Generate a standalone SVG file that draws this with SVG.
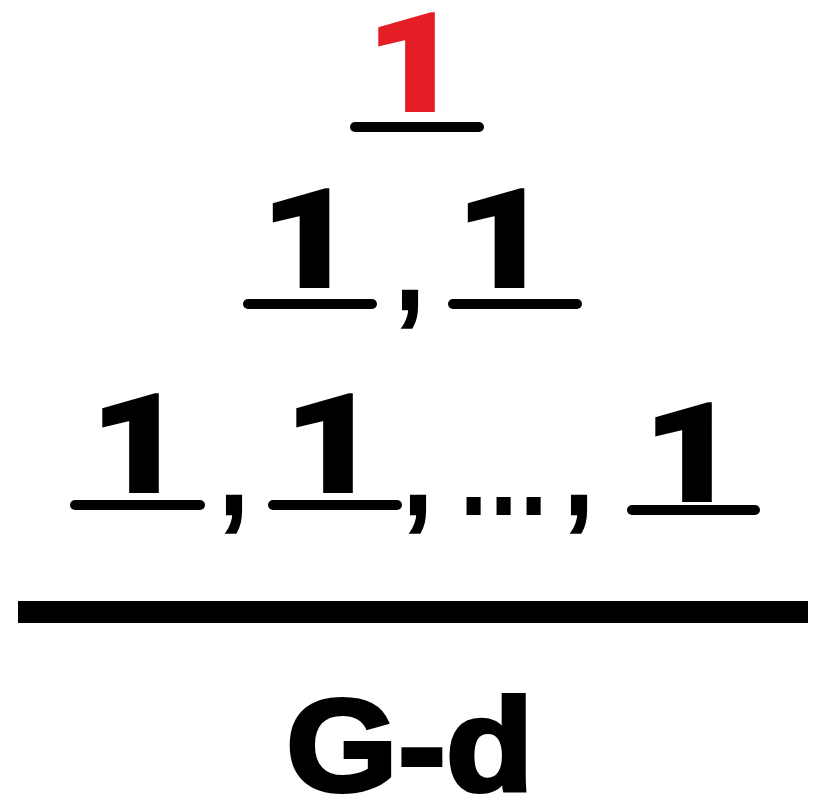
<svg xmlns="http://www.w3.org/2000/svg" width="816" height="796" viewBox="0 0 816 796">
<style>
.one{font-family:Roboto,"Liberation Sans",sans-serif;font-weight:900;font-size:138px;stroke-width:2;stroke-linejoin:miter}
.blk{fill:#000;stroke:#000}
.red{fill:#e31e24;stroke:#e31e24}
.cm{font-family:"Liberation Sans",Arial,sans-serif;font-weight:bold;font-size:100px;fill:#000;stroke:#000;stroke-width:2}
.dots{font-family:"Liberation Sans",Arial,sans-serif;font-weight:bold;font-size:100px;fill:#000;letter-spacing:2.2px}
.ul{stroke:#000;stroke-width:10;stroke-linecap:round;fill:none}
.gd{font-family:"Liberation Sans",Arial,sans-serif;font-weight:bold;font-size:132px;fill:#000;stroke:#000;stroke-width:4}
</style>
<rect width="816" height="796" fill="#fff"/>
<g id="row1">
<text class="one red" transform="translate(366,111) scale(1.2,1)">1</text>
<line class="ul" x1="355" y1="127" x2="479" y2="127"/>
</g>
<g id="row2">
<text class="one blk" transform="translate(260.5,287) scale(1.2,1)">1</text>
<line class="ul" x1="248" y1="304" x2="372" y2="304"/>
<text class="cm" text-anchor="middle" transform="translate(410,308.7) scale(1,1.2)">,</text>
<text class="one blk" transform="translate(455.5,287) scale(1.2,1)">1</text>
<line class="ul" x1="453" y1="304" x2="577" y2="304"/>
</g>
<g id="row3">
<text class="one blk" transform="translate(90,492) scale(1.2,1)">1</text>
<line class="ul" x1="75" y1="505" x2="200" y2="505"/>
<text class="cm" text-anchor="middle" transform="translate(234,514) scale(1,1.2)">,</text>
<text class="one blk" transform="translate(284,492) scale(1.2,1)">1</text>
<line class="ul" x1="273" y1="505" x2="397" y2="505"/>
<text class="cm" text-anchor="middle" transform="translate(418,514) scale(1,1.2)">,</text>
<text class="dots" transform="translate(459.8,515) scale(1,1.2)">...</text>
<text class="cm" text-anchor="middle" transform="translate(579,514) scale(1,1.2)">,</text>
<text class="one blk" transform="translate(643,501) scale(1.2,1)">1</text>
<line class="ul" x1="632" y1="510" x2="755" y2="510"/>
</g>
<g id="bar">
<rect x="18" y="601" width="790" height="22" fill="#000"/>
</g>
<g id="denominator">
<text class="gd" transform="translate(286,791) scale(1.09,1)">G-d</text>
</g>
<g id="connectors"/>
</svg>
